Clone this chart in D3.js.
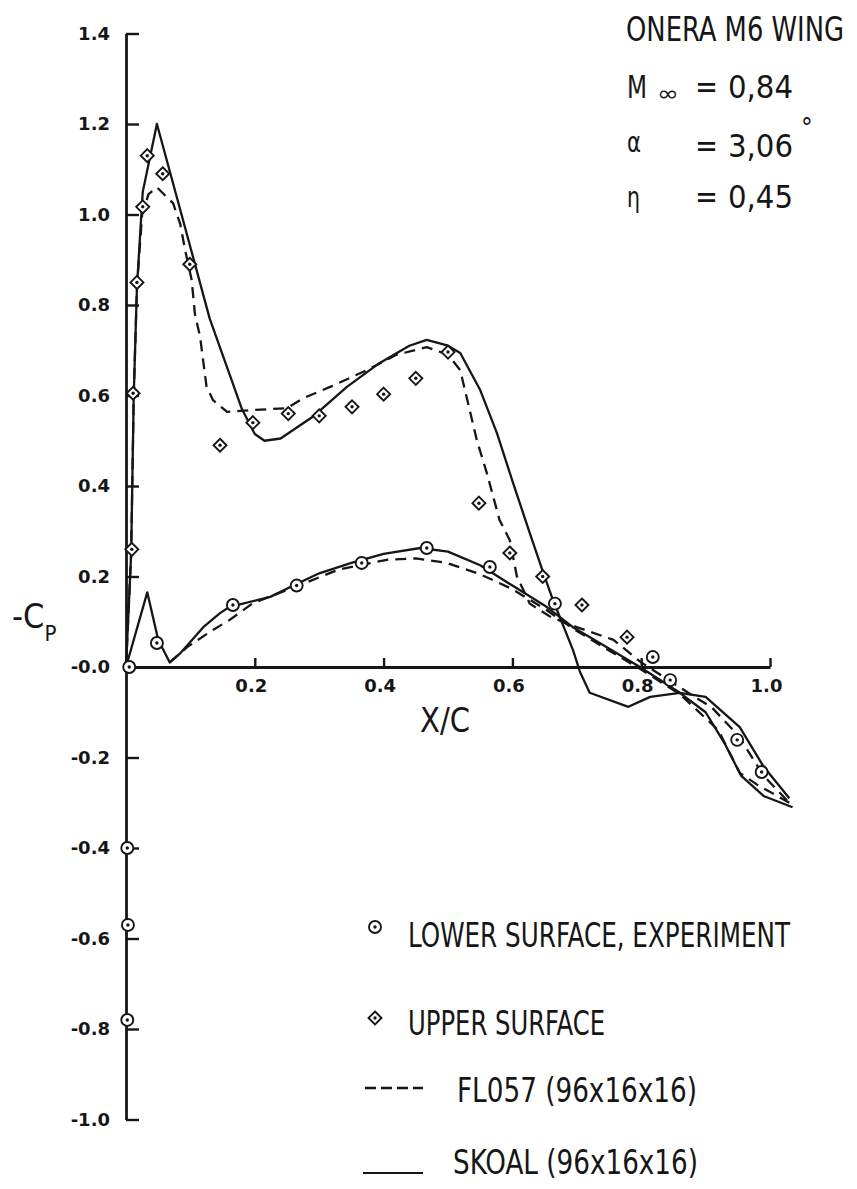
<!DOCTYPE html>
<html><head><meta charset="utf-8">
<script src="https://cdn.jsdelivr.net/npm/d3@7"></script>
<style>
html,body{margin:0;padding:0;background:#fff;}
svg{display:block;}
.t{font-family:"Liberation Sans Narrow","DejaVu Sans Condensed","DejaVu Sans",sans-serif;fill:#161616;}
.tick text{font-family:"DejaVu Sans",sans-serif;font-weight:bold;font-size:18px;fill:#161616;}
</style></head><body>
<svg id="c" width="857" height="1189"></svg>
<script>
// ---- axis ticks ----
const xTicks=[0.2,0.4,0.6,0.8,1.0];
const xTickLabels=["0.2","0.4","0.6","0.8","1.0"];
const yTicks=[-1.0,-0.8,-0.6,-0.4,-0.2,0,0.2,0.4,0.6,0.8,1.0,1.2,1.4];
const yTickLabels=["-1.0","-0.8","-0.6","-0.4","-0.2","-0.0","0.2","0.4","0.6","0.8","1.0","1.2","1.4"];

// ---- SKOAL (solid) upper surface ----
const skoalUpperX=[0.000,0.008,0.012,0.017,0.026,0.048,0.090,0.130,0.160,0.180,0.200,0.215,0.240,0.290,0.343,0.394,0.440,0.467,0.500,0.519,0.550,0.576,0.601,0.627,0.648,0.663,0.694,0.705,0.720,0.780,0.814,0.860,0.900,0.953,0.990,1.030];
const skoalUpperY=[0.00,0.25,0.60,0.84,1.05,1.20,0.98,0.77,0.65,0.57,0.515,0.50,0.505,0.553,0.619,0.672,0.710,0.723,0.710,0.694,0.612,0.517,0.407,0.296,0.208,0.148,0.038,-0.011,-0.057,-0.088,-0.066,-0.057,-0.066,-0.133,-0.220,-0.290];
// ---- SKOAL (solid) lower surface ----
const skoalLowerX=[0.000,0.033,0.050,0.068,0.084,0.120,0.146,0.161,0.224,0.260,0.300,0.350,0.400,0.457,0.500,0.550,0.600,0.653,0.694,0.746,0.798,0.860,0.900,0.930,0.955,0.990,1.035];
const skoalLowerY=[0.00,0.165,0.06,0.01,0.03,0.088,0.119,0.133,0.155,0.180,0.207,0.230,0.250,0.263,0.255,0.225,0.180,0.133,0.088,0.044,0.000,-0.057,-0.100,-0.170,-0.240,-0.285,-0.310];
// ---- FLO57 (dashed) upper surface ----
const flUpperX=[0.000,0.008,0.012,0.017,0.025,0.035,0.048,0.073,0.084,0.092,0.102,0.107,0.115,0.125,0.135,0.157,0.200,0.250,0.275,0.317,0.374,0.420,0.467,0.500,0.519,0.530,0.545,0.560,0.580,0.596,0.607,0.627,0.660,0.700,0.757,0.800,0.860,0.910,0.950,0.990,1.030];
const flUpperY=[0.00,0.25,0.60,0.84,1.00,1.045,1.06,1.025,0.98,0.92,0.855,0.78,0.73,0.62,0.59,0.564,0.568,0.572,0.594,0.619,0.656,0.690,0.707,0.690,0.656,0.590,0.500,0.430,0.325,0.280,0.200,0.140,0.110,0.088,0.060,0.010,-0.045,-0.090,-0.150,-0.240,-0.300];
// ---- FLO57 (dashed) lower surface ----
const flLowerX=[0.068,0.095,0.135,0.161,0.197,0.250,0.330,0.405,0.450,0.498,0.550,0.600,0.653,0.694,0.746,0.798,0.860,0.920,0.953,0.980,1.030];
const flLowerY=[0.01,0.044,0.082,0.104,0.141,0.170,0.215,0.237,0.240,0.230,0.205,0.172,0.126,0.085,0.040,-0.004,-0.060,-0.140,-0.234,-0.260,-0.300];

// ---- experiment, lower surface (circles) ----
const lowerExpX=[0.005,0.002,0.003,0.002,0.048,0.166,0.265,0.366,0.467,0.565,0.666,0.818,0.845,0.949,0.987];
const lowerExpY=[0.000,-0.400,-0.570,-0.780,0.053,0.137,0.180,0.230,0.263,0.221,0.140,0.022,-0.029,-0.161,-0.232];
// ---- experiment, upper surface (diamonds) ----
const upperExpX=[0.009,0.011,0.017,0.026,0.033,0.057,0.099,0.146,0.197,0.252,0.300,0.351,0.400,0.450,0.500,0.548,0.596,0.647,0.708,0.778];
const upperExpY=[0.26,0.605,0.85,1.017,1.13,1.09,0.89,0.49,0.54,0.56,0.555,0.575,0.603,0.638,0.696,0.362,0.252,0.200,0.137,0.066];

const legendLabels=["LOWER SURFACE, EXPERIMENT","UPPER SURFACE","FL057 (96x16x16)","SKOAL (96x16x16)"];

const svg=d3.select("#c");
svg.append("rect").attr("width",857).attr("height",1189).attr("fill","#fff");
const x=d3.scaleLinear().domain([0,1]).range([126,770]);
const y=d3.scaleLinear().domain([-1,1.4]).range([1119.5,33.5]);
const ink="#161616";

// axes
const gy=svg.append("g").attr("transform","translate(126,0)")
  .call(d3.axisLeft(y).tickValues(yTicks).tickSizeInner(-13).tickSizeOuter(0).tickPadding(16)
  .tickFormat((d,i)=>yTickLabels[i]));
const gx=svg.append("g").attr("transform",`translate(0,${y(0)})`)
  .call(d3.axisBottom(x).tickValues(xTicks).tickSizeInner(-9).tickSizeOuter(0).tickPadding(12)
  .tickFormat((d,i)=>xTickLabels[i]));
svg.selectAll(".domain").attr("stroke",ink).attr("stroke-width",2.8);
svg.selectAll(".tick line").attr("stroke",ink).attr("stroke-width",2.4);
gx.selectAll(".tick text").attr("dx",-4);

// lines
const line=d3.line().x(d=>x(d[0])).y(d=>y(d[1]));
function drawLine(xs,ys,dash){
  svg.append("path").datum(xs.map((v,i)=>[v,ys[i]]))
   .attr("d",line).attr("fill","none").attr("stroke",ink)
   .attr("stroke-width",2.3).attr("stroke-linejoin","round")
   .attr("stroke-dasharray",dash?"11,7":null);
}
drawLine(skoalUpperX,skoalUpperY,false);
drawLine(skoalLowerX,skoalLowerY,false);
drawLine(flUpperX,flUpperY,true);
drawLine(flLowerX,flLowerY,true);

// markers
function circleMark(g,cx,cy){
  g.append("circle").attr("cx",cx).attr("cy",cy).attr("r",6).attr("fill","#fff").attr("stroke",ink).attr("stroke-width",1.9);
  g.append("circle").attr("cx",cx).attr("cy",cy).attr("r",1.7).attr("fill",ink);
}
function diamondMark(g,cx,cy){
  const s=6.5;
  g.append("path").attr("d",`M${cx},${cy-s}L${cx+s},${cy}L${cx},${cy+s}L${cx-s},${cy}Z`).attr("fill","#fff").attr("stroke",ink).attr("stroke-width",1.9);
  g.append("circle").attr("cx",cx).attr("cy",cy).attr("r",1.7).attr("fill",ink);
}
const gm=svg.append("g");
lowerExpX.forEach((v,i)=>circleMark(gm,x(v),y(lowerExpY[i])));
upperExpX.forEach((v,i)=>diamondMark(gm,x(v),y(upperExpY[i])));

// axis titles
const cp=svg.append("text").attr("class","t").attr("x",12).attr("y",628).attr("font-size",34);
cp.append("tspan").text("-C");
cp.append("tspan").attr("font-size",22).attr("dy",13).text("P");
svg.append("text").attr("class","t").attr("x",420).attr("y",732).attr("font-size",34)
  .attr("textLength",50).attr("lengthAdjust","spacingAndGlyphs").text("X/C");

// title block
function txt(s,xx,yy,fs,len){
  const t=svg.append("text").attr("class","t").attr("x",xx).attr("y",yy).attr("font-size",fs).text(s);
  if(len) t.attr("textLength",len).attr("lengthAdjust","spacingAndGlyphs");
  return t;
}
txt("ONERA M6 WING",626,41,33,218);
txt("M",627,98,32,20);
txt("∞",657,101,22,22);
txt("=",695,98,32,23);
txt("0,84",728,98,32,65);
txt("α",627,152,28,14);
txt("=",695,157,32,23);
txt("3,06",728,157,32,65);
txt("°",801,137,26);
txt("η",627,207,28,13);
txt("=",695,208,32,23);
txt("0,45",728,208,32,65);

// legend
const lg=svg.append("g");
circleMark(lg,375,927);
txt(legendLabels[0],408,947,33,382);
diamondMark(lg,375,1018);
txt(legendLabels[1],408,1035,33,197);
lg.append("line").attr("x1",365).attr("x2",423).attr("y1",1088).attr("y2",1088)
  .attr("stroke",ink).attr("stroke-width",2.4).attr("stroke-dasharray","11,5");
txt(legendLabels[2],457,1102,33,240);
lg.append("line").attr("x1",363).attr("x2",423).attr("y1",1173).attr("y2",1173)
  .attr("stroke",ink).attr("stroke-width",2.2);
txt(legendLabels[3],453,1174,33,245);
</script></body></html>
